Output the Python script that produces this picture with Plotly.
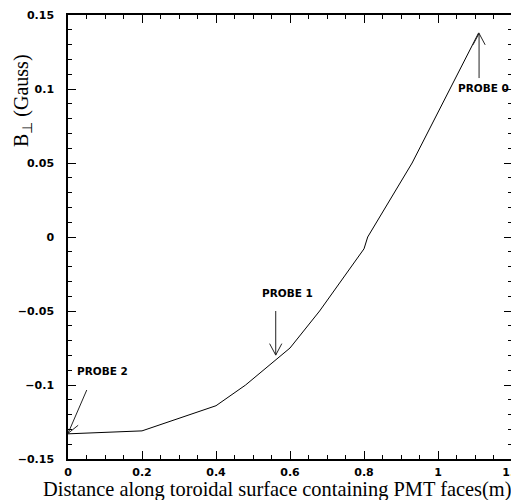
import math
import plotly.graph_objects as go

# ---- data ----
dist_m = [0.0, 0.2, 0.4, 0.48, 0.6, 0.68, 0.8, 0.81, 0.93, 1.11]
b_perp = [-0.133, -0.131, -0.114, -0.100, -0.075, -0.050, -0.008, 0.0, 0.050, 0.138]

probe_labels = ["PROBE 0", "PROBE 1", "PROBE 2"]
probe_tip_x = [1.111, 0.5614, 0.0]
probe_tip_y = [0.1376, -0.0798, -0.1327]
probe_tail_x = [1.111, 0.5614, 0.0507]
probe_tail_y = [0.1074, -0.0500, -0.1034]
probe_text_x = [1.124, 0.592, 0.092]
probe_text_y = [0.1007, -0.0376, -0.0905]

x_range = [0, 1.2]
y_range = [-0.15, 0.15]
x_ticks = [0, 0.2, 0.4, 0.6, 0.8, 1.0, 1.2]
x_ticktext = ["0", "0.2", "0.4", "0.6", "0.8", "1", "1.2"]
y_ticks = [-0.15, -0.1, -0.05, 0, 0.05, 0.1, 0.15]
y_ticktext = ["\u22120.15", "\u22120.1", "\u22120.05", "0", "0.05", "0.1", "0.15"]

# ---- layout geometry (page body adds an 8px offset) ----
OFF = 8
W, H = 519 - OFF, 500 - OFF
ML, MR, MT, MB = 68 - OFF, 7, 15 - OFF, 41
pw, ph = W - ML - MR, H - MT - MB
sx = pw / (x_range[1] - x_range[0])
sy = ph / (y_range[1] - y_range[0])

fig = go.Figure()
fig.add_trace(go.Scatter(x=dist_m, y=b_perp, mode="lines",
                         line=dict(color="black", width=1), hoverinfo="skip"))

# arrows built from probe positions
head_len, head_ang = 13.0, math.radians(28)
ax_x, ax_y = [], []
for xt, yt, xs, ys in zip(probe_tip_x, probe_tip_y, probe_tail_x, probe_tail_y):
    dx, dy = (xs - xt) * sx, (ys - yt) * sy
    n = math.hypot(dx, dy)
    ux, uy = dx / n, dy / n
    ax_x += [xs, xt, None]
    ax_y += [ys, yt, None]
    for s in (1, -1):
        c, si = math.cos(s * head_ang), math.sin(s * head_ang)
        rx, ry = ux * c - uy * si, ux * si + uy * c
        ax_x += [xt, xt + head_len * rx / sx, None]
        ax_y += [yt, yt + head_len * ry / sy, None]
fig.add_trace(go.Scatter(x=ax_x, y=ax_y, mode="lines",
                         line=dict(color="#222222", width=1), hoverinfo="skip"))

for lab, tx, ty in zip(probe_labels, probe_text_x, probe_text_y):
    fig.add_annotation(x=tx, y=ty, text=lab, showarrow=False,
                       xanchor="center", yanchor="middle",
                       font=dict(family="DejaVu Sans", size=10.5, color="black", weight="bold"))

# positions below are page pixels of the reference
fig.add_annotation(xref="paper", yref="paper",
                   x=(277 - 68) / pw, y=(459 - 489) / ph,
                   text="Distance along toroidal surface containing PMT faces(m)",
                   showarrow=False, xanchor="center", yanchor="middle",
                   font=dict(family="Liberation Serif", size=20.4, color="black"))
fig.add_annotation(xref="paper", yref="paper",
                   x=(22 - 68) / pw, y=(459 - 101) / ph,
                   text="B<sub>\u22a5</sub> (Gauss)", textangle=-90,
                   showarrow=False, xanchor="center", yanchor="middle",
                   font=dict(family="Liberation Serif", size=20, color="black"))

tickfont = dict(family="DejaVu Sans", size=11, color="black", weight="bold")
fig.update_xaxes(range=x_range, tickmode="array", tickvals=x_ticks, ticktext=x_ticktext,
                 ticks="inside", ticklen=8, tickwidth=1, tickcolor="black",
                 minor=dict(dtick=0.05, ticks="inside", ticklen=4, tickcolor="black", tickwidth=1),
                 showline=True, linecolor="black", linewidth=1.5, mirror="allticks",
                 showgrid=False, zeroline=False, tickfont=tickfont, ticklabelstandoff=2,
                 automargin=False, ticklabeloverflow="allow")
fig.update_yaxes(range=y_range, tickmode="array", tickvals=y_ticks, ticktext=y_ticktext,
                 ticks="inside", ticklen=8, tickwidth=1, tickcolor="black",
                 minor=dict(dtick=0.01, ticks="inside", ticklen=4, tickcolor="black", tickwidth=1),
                 showline=True, linecolor="black", linewidth=1.5, mirror="allticks",
                 showgrid=False, zeroline=False, tickfont=tickfont, ticklabelstandoff=10,
                 automargin=False, ticklabeloverflow="allow")

fig.update_layout(width=W, height=H, margin=dict(l=ML, r=MR, t=MT, b=MB, autoexpand=False),
                  paper_bgcolor="white", plot_bgcolor="white", showlegend=False)

fig.write_html("out.html")
